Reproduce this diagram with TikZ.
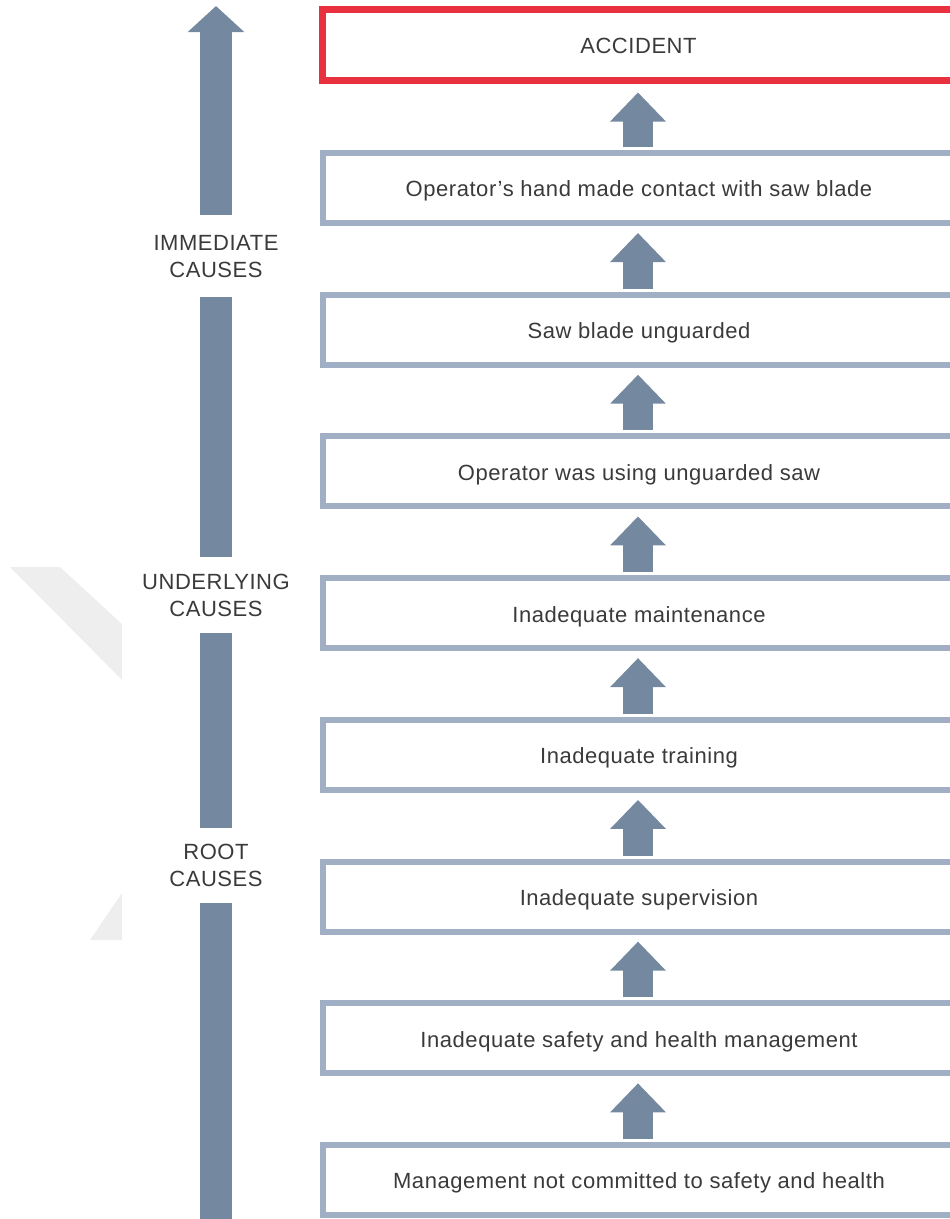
\documentclass[tikz,border=0pt]{standalone}
\usepackage{fontspec}
\setmainfont{Liberation Sans}[LetterSpace=2.5]
\usetikzlibrary{arrows.meta,calc}
\definecolor{arrowc}{RGB}{116,137,160}
\definecolor{boxc}{RGB}{160,175,196}
\definecolor{redc}{RGB}{232,48,62}
\definecolor{txtc}{RGB}{58,58,58}
\definecolor{wmc}{RGB}{238,238,238}
\begin{document}
\begin{tikzpicture}[x=1pt,y=-1pt,
  causebox/.style={draw=boxc,line width=6pt,minimum width=633pt,minimum height=70pt,
    inner sep=0pt,text=txtc,text height=20pt,text depth=2.2pt,font=\fontsize{22}{27}\selectfont},
  accbox/.style={causebox,draw=redc,line width=7pt,minimum height=70.5pt},
  lvl/.style={text=txtc,align=center,inner sep=0pt,font=\fontsize{22}{27}\selectfont},
  smallarrow/.style={draw=arrowc,line width=30pt,-{Triangle[width=54pt,length=29pt]}},
  bigarrow/.style={draw=arrowc,line width=32pt,-{Triangle[width=55pt,length=26pt]}},
  bigshaft/.style={draw=arrowc,line width=32pt}]
\useasboundingbox (0,0) rectangle (950,1219);
% faint watermark shapes
\fill[wmc] (10,567) -- (60,567) -- (122,624) -- (122,680) -- cycle;
\fill[wmc] (122,893) -- (122,940) -- (90,940) -- cycle;
% boxes
\node[accbox] (acc) at (638.5,44.75) {ACCIDENT};
\node[causebox] (b1) at (639,188) {Operator's hand made contact with saw blade};
\node[causebox] (b2) at (639,329.7) {Saw blade unguarded};
\node[causebox] (b3) at (639,471.4) {Operator was using unguarded saw};
\node[causebox] (b4) at (639,613.1) {Inadequate maintenance};
\node[causebox] (b5) at (639,754.9) {Inadequate training};
\node[causebox] (b6) at (639,896.6) {Inadequate supervision};
\node[causebox] (b7) at (639,1038.3) {Inadequate safety and health management};
\node[causebox] (b8) at (639,1180) {Management not committed to safety and health};
% small arrows
\draw[smallarrow] ([shift={(-1,-3)}]b1.north) -- ([shift={(-0.5,9)}]acc.south);
\draw[smallarrow] ([shift={(-1,-3)}]b2.north) -- ([shift={(-1,7)}]b1.south);
\draw[smallarrow] ([shift={(-1,-3)}]b3.north) -- ([shift={(-1,7)}]b2.south);
\draw[smallarrow] ([shift={(-1,-3)}]b4.north) -- ([shift={(-1,7)}]b3.south);
\draw[smallarrow] ([shift={(-1,-3)}]b5.north) -- ([shift={(-1,7)}]b4.south);
\draw[smallarrow] ([shift={(-1,-3)}]b6.north) -- ([shift={(-1,7)}]b5.south);
\draw[smallarrow] ([shift={(-1,-3)}]b7.north) -- ([shift={(-1,7)}]b6.south);
\draw[smallarrow] ([shift={(-1,-3)}]b8.north) -- ([shift={(-1,7)}]b7.south);
% left level arrow
\node[lvl] (l1) at (216,256.5) {IMMEDIATE\\CAUSES};
\node[lvl] (l2) at (216,595.5) {UNDERLYING\\CAUSES};
\node[lvl] (l3) at (216,865.5) {ROOT\\CAUSES};
\coordinate (tip) at (216,6);
\coordinate (bottom) at (216,1230);
\draw[bigarrow] ([yshift=41.5pt]l1.center) -- (tip);
\draw[bigshaft] ([yshift=38.5pt]l2.center) -- ([yshift=-40.5pt]l1.center);
\draw[bigshaft] ([yshift=37.5pt]l3.center) -- ([yshift=-37.5pt]l2.center);
\draw[bigshaft] (bottom) -- ([yshift=-37.5pt]l3.center);
\end{tikzpicture}
\end{document}
